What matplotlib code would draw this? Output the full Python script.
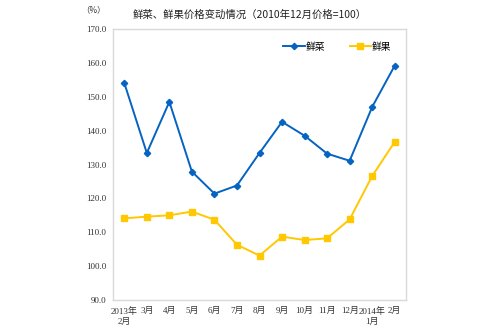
import matplotlib
matplotlib.use("Agg")
import matplotlib.pyplot as plt

categories = ["2013年\n2月", "3月", "4月", "5月", "6月", "7月", "8月", "9月", "10月", "11月", "12月", "2014年\n1月", "2月"]
vegetables = [154.1, 133.4, 148.5, 127.9, 121.4, 123.8, 133.4, 142.6, 138.5, 133.2, 131.1, 147.0, 159.2]
fruits = [114.1, 114.6, 115.0, 116.1, 113.7, 106.3, 103.1, 108.7, 107.7, 108.2, 113.8, 126.6, 136.7]
yticks = [90, 100, 110, 120, 130, 140, 150, 160, 170]

plt.rcParams['font.family'] = ['Liberation Serif', 'Noto Sans CJK SC']

fig = plt.figure(figsize=(5, 3.3), dpi=100)
ax = fig.add_axes([0.226, 0.091, 0.586, 0.821])
x = list(range(len(categories)))
ax.plot(x, vegetables, color='#0563C1', marker='D', markersize=3.2, linewidth=1.4, label='鲜菜')
ax.plot(x, fruits, color='#FFC800', marker='s', markersize=4, linewidth=1.4, label='鲜果')
ax.set_xlim(-0.5, len(categories) - 0.5)
ax.set_ylim(90, 170)
ax.set_yticks(yticks)
ax.set_yticklabels([f"{v:.1f}" for v in yticks], fontsize=6.5, color='#333333')
ax.set_xticks(x)
ax.set_xticklabels(categories, fontsize=6.5, color='#333333', linespacing=1.3,
                   family=['Liberation Serif', 'Noto Sans CJK SC'])
ax.tick_params(length=0, pad=5)
for s in ax.spines.values():
    s.set_color('#D9D9D9')
    s.set_linewidth(1)
leg = ax.legend(loc='upper right', bbox_to_anchor=(0.98, 0.985), ncol=2, frameon=False,
                fontsize=7, handlelength=2.2, columnspacing=2.5, handletextpad=0.1,
                prop={'family': ['Noto Sans CJK SC'], 'size': 7})
fig.text(0.5, 0.955, '鲜菜、鲜果价格变动情况（2010年12月价格=100）', ha='center', va='center',
         fontsize=7.5, family=['Noto Sans CJK SC'], color='#222222')
fig.text(0.187, 0.97, '（%）', ha='center', va='center', fontsize=6, family=['Noto Sans CJK SC'], color='#333333')
fig.savefig('out.png', dpi=100)
